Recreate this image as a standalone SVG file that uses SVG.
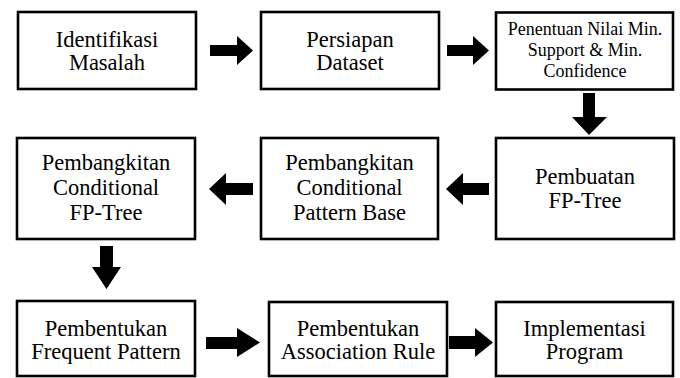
<svg xmlns="http://www.w3.org/2000/svg" width="680" height="378" viewBox="0 0 680 378">
<style>
.box{fill:#fff;stroke:#000;stroke-width:2.6}
.t{font-family:"Liberation Serif","Times New Roman",serif;font-size:22.5px;fill:#000;text-anchor:middle}
.s{font-size:18px}
.arr{fill:#000;stroke:none}
</style>
<rect width="680" height="378" fill="#fff"/>
<g id="n1"><rect class="box" x="18" y="12" width="178" height="77"/>
<text class="t" x="107" y="47">Identifikasi</text><text class="t" x="107" y="70">Masalah</text></g>
<g id="n2"><rect class="box" x="261" y="12" width="178" height="77"/>
<text class="t" x="350" y="47">Persiapan</text><text class="t" x="350" y="70">Dataset</text></g>
<g id="n3"><rect class="box" x="496" y="12.5" width="177" height="77"/>
<text class="t s" x="585" y="35">Penentuan Nilai Min.</text><text class="t s" x="585" y="56">Support &amp; Min.</text><text class="t s" x="585" y="77">Confidence</text></g>
<g id="n6"><rect class="box" x="496" y="138" width="178" height="101"/>
<text class="t" x="585" y="184">Pembuatan</text><text class="t" x="585" y="208">FP-Tree</text></g>
<g id="n5"><rect class="box" x="261" y="138" width="177" height="101"/>
<text class="t" x="349.5" y="170">Pembangkitan</text><text class="t" x="349.5" y="195">Conditional</text><text class="t" x="349.5" y="220">Pattern Base</text></g>
<g id="n4"><rect class="box" x="17" y="138" width="178" height="101"/>
<text class="t" x="106" y="170">Pembangkitan</text><text class="t" x="106" y="195">Conditional</text><text class="t" x="106" y="220">FP-Tree</text></g>
<g id="n7"><rect class="box" x="17" y="301" width="178" height="75"/>
<text class="t" x="106" y="336">Pembentukan</text><text class="t" x="106" y="359">Frequent Pattern</text></g>
<g id="n8"><rect class="box" x="269" y="302" width="178" height="74"/>
<text class="t" x="358" y="336">Pembentukan</text><text class="t" x="358" y="359">Association Rule</text></g>
<g id="n9"><rect class="box" x="496" y="302" width="177" height="74"/>
<text class="t" x="584.5" y="336">Implementasi</text><text class="t" x="584.5" y="359">Program</text></g>
<g id="connectors" class="arr">
<polygon points="210,45 237,45 237,36 253,50.5 237,65 237,56 210,56"/>
<polygon points="447,45 473,45 473,36 489,50.5 473,65 473,56 447,56"/>
<polygon points="583,93 595,93 595,117 607,117 589,135 572,117 583,117"/>
<polygon points="253,183 226,183 226,173 209,189 226,205 226,195 253,195"/>
<polygon points="489,183 463,183 463,173 446,189 463,205 463,195 489,195"/>
<polygon points="100,246 113,246 113,267 121,267 106.5,289 92,267 100,267"/>
<polygon points="206,337 237,337 237,328 260,342.5 237,357 237,349 206,349"/>
<polygon points="449,336 475,336 475,328 493,342.5 475,357 475,349 449,349"/>
</g>
</svg>
